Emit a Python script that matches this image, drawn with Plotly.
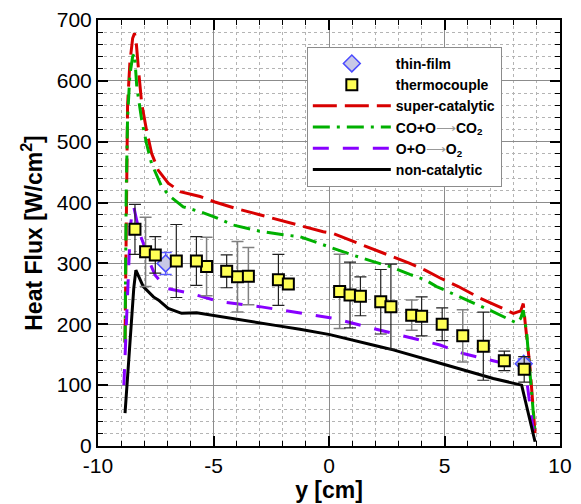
import plotly.graph_objects as go

# ---- data ----
red_x = [-8.83, -8.78, -8.72, -8.62, -8.5, -8.42, -8.35, -8.25, -8.11, -7.9, -7.68, -7.39, -6.96, -6.45,
         -5.58, -4.94, -4.0, -3.0, -2.12, -1.0, -0.25, 0.19, 1.3, 2.35, 2.78, 3.5, 4.16, 4.81, 5.6, 6.54,
         7.3, 7.98, 8.3, 8.41, 8.5, 8.7, 8.92]
red_y = [170, 420, 560, 630, 670, 678, 665, 620, 563, 519, 481, 453, 432, 418,
         410, 401, 390, 380, 371, 360, 352, 349, 333, 317, 311, 300, 289, 276, 262, 243,
         230, 218, 222, 234, 200, 130, 21]

green_x = [-8.83, -8.78, -8.72, -8.62, -8.5, -8.42, -8.32, -8.2, -8.11, -7.9, -7.68, -7.24, -6.88, -6.31,
           -5.58, -5.0, -4.14, -3.0, -1.98, -1.26, -0.68, 0.19, 1.0, 1.92, 2.64, 3.5, 4.16, 4.66, 5.67,
           6.97, 8.13, 8.3, 8.41, 8.56, 8.7, 8.84, 8.92]
green_y = [170, 410, 540, 610, 640, 645, 590, 560, 536, 497, 464, 426, 410, 393,
           385, 377, 363, 353, 347, 344, 336, 325, 314, 303, 295, 282, 273, 262, 245,
           223, 202, 210, 223, 185, 120, 54, 21]

purple_x = [-8.88, -8.8, -8.7, -8.6, -8.5, -8.45, -8.35, -8.2, -8.04, -7.8, -7.53, -7.03, -6.02, -4.72,
            -3.0, -1.98, -1.26, -0.6, 0.19, 1.92, 3.36, 4.23, 4.81, 5.81, 7.55, 8.2, 8.41, 8.56, 8.84, 8.92]
purple_y = [100, 180, 280, 360, 390, 393, 375, 350, 333, 305, 281, 259, 251, 237,
            229, 223, 218, 214, 210, 193, 180, 171, 166, 152, 136, 130, 138, 108, 26, 10]

black_x = [-8.83, -8.58, -8.45, -8.36, -8.25, -8.04, -7.6, -7.39, -6.96, -6.38, -5.73, -4.94, -3.42,
           -2.12, -1.26, 0.04, 2.21, 2.78, 4.81, 7.11, 8.34, 8.92]
black_y = [54, 201, 260, 289, 280, 262, 245, 240, 226, 218, 219, 214, 204,
           197, 192, 183, 163, 158, 136, 111, 100, 7]

# thermocouple measurements (black error bars)
tc_x = [-8.40, -7.52, -6.61, -5.74, -4.43, -2.19, -1.76, 0.91, 1.36, 2.24, 2.68, 4.01, 4.90, 6.68, 7.59, 8.45]
tc_y = [356, 314, 304, 304, 287, 273, 266, 248, 246, 237, 229, 213, 200, 164, 140, 126]
tc_err = [41, 30, 60, 40, 27, 42, 8, 54, 32, 53, 70, 32, 27, 56, 16, 21]
# thermocouple measurements (gray error bars)
tc2_x = [-7.94, -5.30, -3.96, -3.49, 0.46, 3.58, 5.79]
tc2_y = [319, 295, 278, 279, 254, 215, 181]
tc2_err = [57, 48, 58, 47, 61, 25, 43]

# thin-film gauges
tf_x = [-7.07, 8.43]
tf_y = [300, 135]
tf_err = [18, 8]

x_ticks = [-10, -5, 0, 5, 10]
x_ticklabels = ["-10", "-5", "0", "5", "10"]

# ---- figure ----
FONT = "Liberation Sans, Arial, Helvetica, sans-serif"
fig = go.Figure()

fig.add_trace(go.Scatter(x=red_x, y=red_y, mode="lines", name="super-catalytic", legendrank=3,
                         line=dict(color="#d80000", width=3, dash="24px,8px")))
fig.add_trace(go.Scatter(x=green_x, y=green_y, mode="lines",
                         name="CO+O<span style='color:#999999;font-weight:normal'>⟶</span>CO<sub>2</sub>",
                         legendrank=4,
                         line=dict(color="#00b000", width=3, dash="17px,7px,3px,7px")))
fig.add_trace(go.Scatter(x=purple_x, y=purple_y, mode="lines",
                         name="O+O<span style='color:#999999;font-weight:normal'>⟶</span>O<sub>2</sub>",
                         legendrank=5,
                         line=dict(color="#8800ff", width=3, dash="16px,14px")))
fig.add_trace(go.Scatter(x=black_x, y=black_y, mode="lines", name="non-catalytic", legendrank=6,
                         line=dict(color="black", width=3)))

fig.add_trace(go.Scatter(x=tf_x, y=tf_y, mode="markers", name="thin-film", legendrank=1,
                         error_y=dict(type="data", array=tf_err, color="#5a5aff", thickness=1.5, width=6),
                         marker=dict(symbol="diamond", size=13, color="#c8c8e6",
                                     line=dict(color="#4a4aff", width=1.5))))
fig.add_trace(go.Scatter(x=tc2_x, y=tc2_y, mode="markers", name="thermocouple", showlegend=False,
                         error_y=dict(type="data", array=tc2_err, color="#808080", thickness=1.5, width=6),
                         marker=dict(symbol="square", size=11, color="#ffff55",
                                     line=dict(color="black", width=2))))
fig.add_trace(go.Scatter(x=tc_x, y=tc_y, mode="markers", name="thermocouple", legendrank=2,
                         error_y=dict(type="data", array=tc_err, color="#202020", thickness=1.2, width=6),
                         marker=dict(symbol="square", size=11, color="#ffff55",
                                     line=dict(color="black", width=2))))

axis_common = dict(
    showline=True, linewidth=2, linecolor="black", mirror="ticks",
    ticks="inside", ticklen=10, tickwidth=2, tickcolor="black",
    showgrid=True, gridcolor="#8c8c8c", gridwidth=1, zeroline=False,
    tickfont=dict(family=FONT, size=21, color="black"),
    automargin=False,
)

fig.update_xaxes(
    range=[-10, 10], tickmode="array", tickvals=x_ticks, ticktext=x_ticklabels,
    title=dict(text="<b>y [cm]</b>", font=dict(family=FONT, size=23, color="black"), standoff=4),
    minor=dict(dtick=1, tick0=-10, ticks="inside", ticklen=5, tickwidth=1, tickcolor="black",
               showgrid=True, gridcolor="#b4b4b4", griddash="dot", gridwidth=1),
    **axis_common,
)
fig.update_yaxes(
    range=[0, 700], dtick=100, tick0=0,
    title=dict(text="<b>Heat Flux [W/cm<sup>2</sup>]</b>", font=dict(family=FONT, size=23, color="black"),
               standoff=8),
    minor=dict(dtick=20, ticks="inside", ticklen=5, tickwidth=1, tickcolor="black",
               showgrid=True, gridcolor="#b4b4b4", griddash="dot", gridwidth=1),
    **axis_common,
)

fig.update_layout(
    width=581, height=504,
    margin=dict(l=98, r=21, t=20, b=58),
    paper_bgcolor="white", plot_bgcolor="white",
    showlegend=True,
    legend=dict(
        x=0.452, y=0.937, xanchor="left", yanchor="top",
        bgcolor="white", bordercolor="#8c8c8c", borderwidth=1,
        font=dict(family=FONT, size=14, color="black", weight="bold"),
        itemwidth=78, tracegroupgap=0,
    ),
)

fig.write_html("out.html")
